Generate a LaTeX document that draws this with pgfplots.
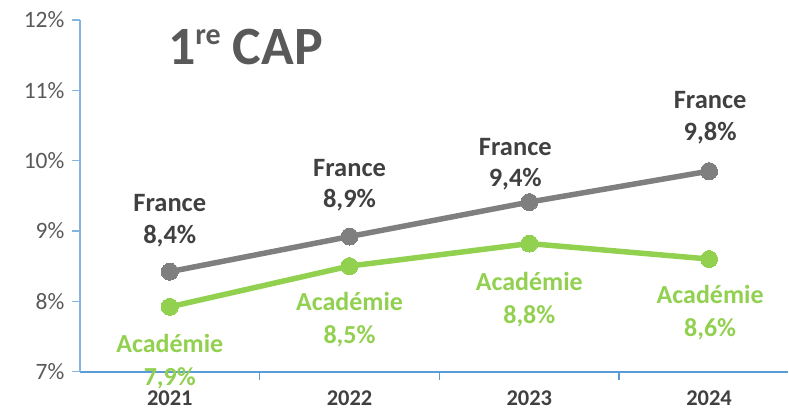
\documentclass[border=0pt]{standalone}
\usepackage{fontspec}
\setmainfont{Carlito}
\usepackage{pgfplots}
\pgfplotsset{compat=1.18}
\definecolor{axisblue}{HTML}{5B9BD5}
\definecolor{ygray}{HTML}{595959}
\definecolor{txtgray}{HTML}{404040}
\definecolor{linegray}{HTML}{7F7F7F}
\definecolor{lgreen}{HTML}{92D050}
\begin{document}
\begin{tikzpicture}
\path[draw=none] (-80pt,-40pt) rectangle (709pt,372pt);
\begin{axis}[
  scale only axis, width=709pt, height=352pt,
  xmin=-0.5, xmax=3.439, ymin=7, ymax=12,
  clip=false,
  axis x line=bottom, axis y line=left,
  axis line style={-},
  x axis line style={draw=axisblue, line width=2pt},
  y axis line style={draw=axisblue!75, line width=1.3pt},
  tick align=outside,
  major tick length=8pt,
  xtick={0.5,1.5,2.5}, xticklabels={},
  x tick style={draw=axisblue, line width=1.5pt},
  extra x ticks={0,1,2,3},
  extra x tick labels={2021,2022,2023,2024},
  extra x tick style={major tick length=0pt, tick style={draw=none},
     xticklabel style={yshift=-16pt}},
  xticklabel style={font=\fontsize{22.5}{26}\selectfont\bfseries, text=txtgray},
  ytick={7,8,...,12},
  yticklabel={\pgfmathprintnumber{\tick}\%},
  y tick style={draw=axisblue!75, line width=1.3pt},
  yticklabel style={font=\fontsize{23.5}{27}\selectfont, text=ygray, xshift=-4pt},
  /pgf/number format/assume math mode=true,
]
\addplot[linegray, line width=5.5pt, mark=*, mark size=8.5pt, mark options={fill=linegray, draw=linegray, line width=0pt}]
  coordinates {(0,8.42) (1,8.92) (2,9.41) (3,9.85)};
\addplot[lgreen, line width=5.5pt, mark=*, mark size=8.5pt, mark options={fill=lgreen, draw=lgreen, line width=0pt}]
  coordinates {(0,7.92) (1,8.50) (2,8.82) (3,8.60)};
\tikzset{fr/.style={align=center, text=txtgray, font=\fontsize{26.5}{31.5}\selectfont\bfseries},
         ac/.style={align=center, text=lgreen, font=\fontsize{26}{32.5}\selectfont\bfseries}}
\node[fr] at (axis cs:0,9.145) {France\\8,4\%};
\node[fr] at (axis cs:1,9.649) {France\\8,9\%};
\node[fr] at (axis cs:1.922,9.947) {France\\9,4\%};
\node[fr] at (axis cs:3.006,10.608) {France\\9,8\%};
\node[ac] at (axis cs:0,7.142) {Académie\\7,9\%};
\node[ac] at (axis cs:1,7.739) {Académie\\8,5\%};
\node[ac] at (axis cs:2,8.023) {Académie\\8,8\%};
\node[ac] at (axis cs:3.006,7.838) {Académie\\8,6\%};
\node[anchor=base west, text=ygray, font=\fontsize{54}{60}\selectfont\bfseries, inner sep=0pt]
  at (axis cs:-0.011,11.361) {1\raisebox{20pt}{\fontsize{30}{30}\selectfont re} CAP};
\end{axis}
\end{tikzpicture}
\end{document}
